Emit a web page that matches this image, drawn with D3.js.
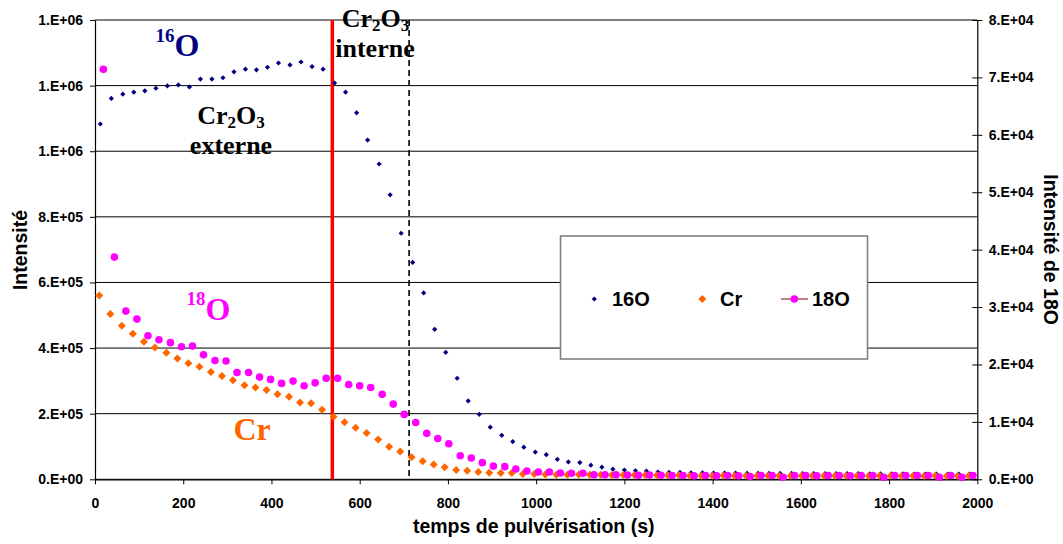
<!DOCTYPE html>
<html><head><meta charset="utf-8">
<script src="https://cdn.jsdelivr.net/npm/d3@7"></script>
<style>
html,body{margin:0;padding:0;background:#fff;}
svg{display:block;}
.ax text{font-family:"Liberation Sans",Arial,sans-serif;font-weight:bold;font-size:14px;fill:#000;}
</style></head>
<body>
<svg id="chart" width="1063" height="544"></svg>
<script>
// ---- data ----
const timeA = [12,37,63,88,113,138,164,189,214,239,265,290,315,341,366,391,416,442,467,492,517,543,568,593,618,644,669,694,720,745,770,795,821,846,871,896,922,947,972,998,1023,1048,1073,1099,1124,1149,1174,1200,1225,1250,1276,1301,1326,1351,1377,1402,1427,1452,1478,1503,1528,1553,1579,1604,1629,1655,1680,1705,1730,1756,1781,1806,1831,1857,1882,1907,1933,1958,1983];
const timeB = [19,44,70,95,120,145,171,196,221,246,272,297,322,348,373,398,423,449,474,499,524,550,575,600,625,651,676,701,727,752,777,802,828,853,878,903,929,954,979,1005,1030,1055,1080,1106,1131,1156,1181,1207,1232,1257,1283,1308,1333,1358,1384,1409,1434,1459,1485,1510,1535,1560,1586,1611,1636,1662,1687,1712,1737,1763,1788,1813,1838,1864,1889,1914,1940,1965,1990];
const o16 = [1083000,1161000,1174000,1180000,1184000,1192000,1199000,1202000,1196000,1220000,
  1220000,1224000,1242000,1250000,1248000,1256000,1269000,1263000,1272000,1258000,
  1250000,1208000,1180000,1117000,1034000,961000,867000,750000,661000,568000,
  457000,387000,308000,239000,198000,159000,134000,115000,98000,83000,
  75000,61000,53000,51000,43000,37000,31000,28000,26000,25000,
  22000,21000,21000,20000,20000,19000,19000,19000,18500,18500,
  18000,18000,18000,17500,17500,17000,17000,17000,17000,16500,
  16500,16500,16500,16000,16000,16000,16000,16000,16000];
const cr = [560000,504000,468000,444000,419000,402000,386000,368000,354000,343000,
  327000,315000,302000,287000,280000,272000,259000,252000,234000,232000,
  212000,191000,174000,157000,141000,121000,99000,85000,67000,55000,
  45000,37000,28000,26000,22000,20000,19000,19000,16000,16000,
  15000,14000,14000,15000,14000,14000,13000,13000,13000,13000,
  12500,12000,12000,11000,11000,11000,11500,11000,11000,11000,
  10500,11000,11000,10500,10500,11000,10500,10500,10500,10000,
  10500,10500,10000,10500,10000,10500,10000,10000,10500];
const o18 = [71400,38700,29300,27900,25000,24300,23800,23100,23200,21700,
  20700,20600,18600,18600,17800,17400,16700,17100,16300,16800,
  17600,17600,16500,16300,16000,14800,13100,11300,9900,8000,
  7100,6200,4100,3700,2900,2300,2200,1800,1450,1270,
  1270,1100,1050,1050,800,800,800,750,700,750,
  700,650,650,600,650,600,650,600,500,650,
  650,350,650,650,600,650,650,600,650,650,
  350,650,650,650,650,350,650,350,650];
const xTicks = [0,200,400,600,800,1000,1200,1400,1600,1800,2000];
const leftTickValues = [0,200000,400000,600000,800000,1000000,1200000,1400000];
const leftTickLabels = ["0.E+00","2.E+05","4.E+05","6.E+05","8.E+05","1.E+06","1.E+06","1.E+06"];
const rightTickValues = [0,10000,20000,30000,40000,50000,60000,70000,80000];
const rightTickLabels = ["0.E+00","1.E+04","2.E+04","3.E+04","4.E+04","5.E+04","6.E+04","7.E+04","8.E+04"];
const seriesNames = ["16O","Cr","18O"];
const redLineTime = 538;
const dashLineTime = 712;

// ---- layout ----
const svg = d3.select("#chart");
const L = 95, R = 977.3, T = 20, B = 479.3;
const x = d3.scaleLinear().domain([0,2000]).range([L,R]);
const yL = d3.scaleLinear().domain([0,1400000]).range([B,T]);
const yR = d3.scaleLinear().domain([0,80000]).range([B,T]);
const sans = '"Liberation Sans",Arial,sans-serif';
const serif = '"Liberation Serif","Times New Roman",serif';

// gridlines
svg.append("g").selectAll("line").data(leftTickValues).join("line")
  .attr("x1",L).attr("x2",R).attr("y1",d=>yL(d)).attr("y2",d=>yL(d))
  .attr("stroke","#000").attr("stroke-width",1);

// axes
const gl = svg.append("g").attr("class","ax").attr("transform",`translate(${L},0)`)
  .call(d3.axisLeft(yL).tickValues(leftTickValues).tickFormat((d,i)=>leftTickLabels[i]).tickSize(5).tickPadding(7).tickSizeOuter(0));
const gr = svg.append("g").attr("class","ax").attr("transform",`translate(${R},0)`)
  .call(d3.axisRight(yR).tickValues(rightTickValues).tickFormat((d,i)=>rightTickLabels[i]).tickSize(5).tickPadding(6.5).tickSizeOuter(0));
gr.selectAll(".tick line").attr("x1",-5).attr("x2",5);
const gb = svg.append("g").attr("class","ax").attr("transform",`translate(0,${B})`)
  .call(d3.axisBottom(x).tickValues(xTicks).tickFormat(d3.format("d")).tickSize(5).tickPadding(13.5).tickSizeOuter(0));
[gl,gr,gb].forEach(g=>{g.selectAll("path.domain").attr("stroke","#000").attr("stroke-width",1.2);
  g.selectAll(".tick line").attr("stroke","#000");});
gl.selectAll("text").style("font-size","14px");

// vertical markers
svg.append("line").attr("x1",x(redLineTime)).attr("x2",x(redLineTime)).attr("y1",T).attr("y2",B)
  .attr("stroke","#FF0000").attr("stroke-width",3.5);
svg.append("line").attr("x1",x(dashLineTime)).attr("x2",x(dashLineTime)).attr("y1",T).attr("y2",B)
  .attr("stroke","#000").attr("stroke-width",1.6).attr("stroke-dasharray","6,4");

// legend box
const lg = svg.append("g");
lg.append("rect").attr("x",560.5).attr("y",236).attr("width",307).attr("height",123)
  .attr("fill","#fff").attr("stroke","#808080").attr("stroke-width",1.6);

const diamond = r => `M0,${-r}L${r},0L0,${r}L${-r},0Z`;

// series
svg.append("g").selectAll("path").data(o16).join("path")
  .attr("d",diamond(2.6)).attr("fill","#000080")
  .attr("transform",(d,i)=>`translate(${x(timeA[i])},${yL(d)})`);
svg.append("g").selectAll("path").data(cr).join("path")
  .attr("d",diamond(4)).attr("fill","#FF6600")
  .attr("transform",(d,i)=>`translate(${x(timeA[i])-1},${yL(d)})`);
svg.append("g").selectAll("circle").data(o18).join("circle")
  .attr("r",3.8).attr("fill","#FF00FF")
  .attr("cx",(d,i)=>x(timeB[i])).attr("cy",d=>yR(d));

// legend items
const ly = 299;
lg.append("path").attr("d",diamond(2.6)).attr("fill","#000080").attr("transform",`translate(594.3,${ly})`);
lg.append("text").attr("x",612).attr("y",306).text(seriesNames[0]);
lg.append("path").attr("d",diamond(4)).attr("fill","#FF6600").attr("transform",`translate(702.3,${ly})`);
lg.append("text").attr("x",720).attr("y",306).text(seriesNames[1]);
lg.append("line").attr("x1",781).attr("x2",808).attr("y1",ly).attr("y2",ly).attr("stroke","#C08080").attr("stroke-width",2);
lg.append("circle").attr("cx",794.3).attr("cy",ly).attr("r",3.8).attr("fill","#FF00FF");
lg.append("text").attr("x",812).attr("y",306).text(seriesNames[2]);
lg.selectAll("text").attr("font-family",sans).attr("font-weight","bold").attr("font-size","20px");

// axis titles
const title = (txt,tx,ty,rot)=>svg.append("text").attr("transform",`translate(${tx},${ty}) rotate(${rot})`)
  .attr("text-anchor","middle").attr("font-family",sans).attr("font-weight","bold").attr("font-size","19.5px").text(txt);
title("Intensité",26.5,250,-90);
title("Intensité de 18O",1043.5,249.6,90);
title("temps de pulvérisation (s)",533.7,533,0);

// annotations
function rich(parts, tx, ty, color, anchor){
  const t = svg.append("text").attr("x",tx).attr("y",ty).attr("fill",color)
    .attr("font-family",serif).attr("font-weight","bold").attr("text-anchor",anchor||"start");
  parts.forEach(p=>t.append("tspan").attr("font-size",p[1]+"px").attr("dy",p[2]).text(p[0]));
  return t;
}
rich([["16",19,-14.3],["O",32,14.3]],155.5,56,"#000080");
rich([["18",19,-15],["O",32,15]],186.5,320,"#FF00FF");
rich([["Cr",32,0]],233.5,440,"#FF6600");
rich([["Cr",26,0],["2",17,4],["O",26,-4],["3",17,4]],231,123.5,"#000","middle");
rich([["externe",26,0]],231,153.5,"#000","middle");
rich([["Cr",26,0],["2",17,4],["O",26,-4],["3",17,4]],375.5,26.7,"#000","middle");
rich([["interne",26,0]],375,56.7,"#000","middle");
</script>
</body></html>
